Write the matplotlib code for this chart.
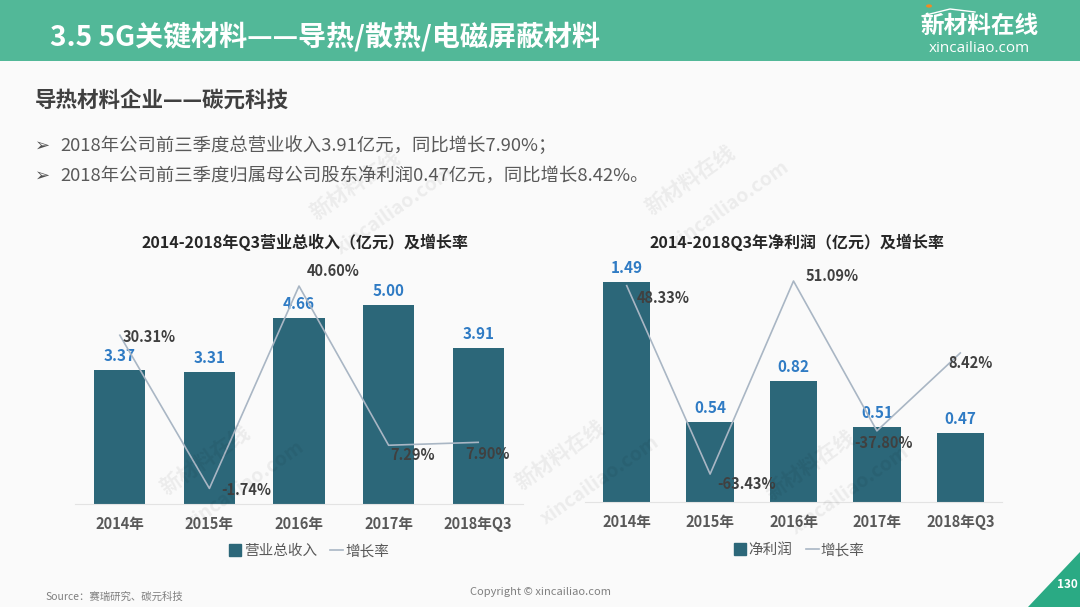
import matplotlib
matplotlib.use("Agg")
import matplotlib.pyplot as plt
from matplotlib.patches import Rectangle, Polygon, Circle
from matplotlib.lines import Line2D

plt.rcParams['font.family'] = ['Noto Sans CJK SC', 'DejaVu Sans']

# ---------------- data ----------------
categories = ['2014年', '2015年', '2016年', '2017年', '2018年Q3']
revenue = [3.37, 3.31, 4.66, 5.00, 3.91]
revenue_growth = [30.31, -1.74, 40.60, 7.29, 7.90]
profit = [1.49, 0.54, 0.82, 0.51, 0.47]
profit_growth = [48.33, -63.43, 51.09, -37.80, 8.42]

title_main = '3.5 5G关键材料——导热/散热/电磁屏蔽材料'
subtitle = '导热材料企业——碳元科技'
bullets = ['2018年公司前三季度总营业收入3.91亿元，同比增长7.90%；',
           '2018年公司前三季度归属母公司股东净利润0.47亿元，同比增长8.42%。']
chart1_title = '2014-2018年Q3营业总收入（亿元）及增长率'
chart2_title = '2014-2018Q3年净利润（亿元）及增长率'
legend1 = ['营业总收入', '增长率']
legend2 = ['净利润', '增长率']

# ---------------- style ----------------
W, H = 1080, 607
BG = '#FAFAFA'
GREEN = '#52B898'
BAR = '#2C6779'
BLUE = '#2F7BC4'
LINE = '#A9B6C4'
DARK = '#404040'
GRAY = '#595959'

fig = plt.figure(figsize=(W / 100, H / 100), dpi=100, facecolor=BG)


def fx(x):
    return x / W


def fy(y):
    return 1 - y / H


def axes_px(x0, y0, x1, y1):
    return fig.add_axes([fx(x0), fy(y1), (x1 - x0) / W, (y1 - y0) / H])


# header band
fig.patches.append(Rectangle((0, fy(61)), 1, 61 / H, transform=fig.transFigure,
                             facecolor=GREEN, edgecolor='none', zorder=0))
fig.text(fx(50), fy(37), title_main, color='white', fontsize=20.2, fontweight='bold',
         va='center', ha='left')
# logo
fig.text(fx(979), fy(26), '新材料在线', color='white', fontsize=17, fontweight='bold',
         va='center', ha='center')
fig.text(fx(979), fy(48), 'xincailiao.com', color='white', fontsize=11,
         va='center', ha='center', family=['Open Sans', 'DejaVu Sans'])
fig.patches.append(Circle((fx(929), fy(6)), 3.0 / W, transform=fig.transFigure,
                          facecolor='#F08A24', edgecolor='none'))
fig.lines.append(Line2D([fx(922), fx(950), fx(975)],
                        [fy(16), fy(9), fy(12)], transform=fig.transFigure,
                        color='white', lw=1.0))

# subtitle & bullets
fig.text(fx(35), fy(100), subtitle, color=DARK, fontsize=15.5, fontweight='bold',
         va='center', ha='left')
for i, b in enumerate(bullets):
    yy = 146 + 30 * i
    fig.text(fx(35), fy(yy), '➢', color='#505050', fontsize=13, va='center', ha='left',
             family=['DejaVu Sans'])
    fig.text(fx(60), fy(yy), b, color=GRAY, fontsize=13.2, va='center', ha='left')

# watermarks
wm = [(355, 185), (690, 180), (205, 460), (560, 455), (810, 465)]
for (wx, wy) in wm:
    fig.text(fx(wx), fy(wy), '新材料在线', color='#000000', alpha=0.06, fontsize=15,
             fontweight='bold', rotation=35, ha='center', va='center')
    fig.text(fx(wx + 40), fy(wy + 25), 'xincailiao.com', color='#000000', alpha=0.06,
             fontsize=14, fontweight='bold', rotation=35, ha='center', va='center')


def draw_chart(box, values, growth, ylim1, ylim2, title, title_xy, g_offs,
               legend_labels, legend_xy):
    ax = axes_px(*box)
    ax.set_facecolor('none')
    x = list(range(len(categories)))
    ax.bar(x, values, width=0.57, color=BAR, zorder=2)
    ax.set_xlim(-0.5, len(categories) - 0.5)
    ax.set_ylim(*ylim1)
    for s in ['top', 'right', 'left']:
        ax.spines[s].set_visible(False)
    ax.spines['bottom'].set_color('#E3E3E3')
    ax.spines['bottom'].set_linewidth(0.8)
    ax.set_yticks([])
    ax.set_xticks(x)
    ax.set_xticklabels(categories, fontsize=10.5, fontweight='bold', color=GRAY)
    ax.tick_params(axis='x', length=0, pad=9)
    for xi, v in zip(x, values):
        ax.annotate(f'{v:.2f}', (xi, v), xytext=(0, 6), textcoords='offset pixels',
                    ha='center', va='bottom', fontsize=11, fontweight='bold', color=BLUE)
    ax2 = ax.twinx()
    ax2.set_ylim(*ylim2)
    ax2.plot(x, growth, color=LINE, lw=1.2, zorder=3)
    ax2.axis('off')
    for xi, g, (ox, oy, ha) in zip(x, growth, g_offs):
        ax2.annotate(f'{g:.2f}%', (xi, g), xytext=(ox, oy), textcoords='offset pixels',
                     ha=ha, va='center', fontsize=10.5, fontweight='bold', color=DARK)
    fig.text(fx(title_xy[0]), fy(title_xy[1]), title, fontsize=11.5, fontweight='bold',
             color='#262626', ha='center', va='center')
    handles = [Line2D([], [], marker='s', linestyle='none', color=BAR, markersize=8),
               Line2D([], [], color=LINE, lw=1.2)]
    fig.legend(handles, legend_labels, loc='center',
               bbox_to_anchor=(fx(legend_xy[0]), fy(legend_xy[1])), ncol=2,
               frameon=False, handlelength=0.9, handletextpad=0.15, columnspacing=0.9,
               prop={'size': 10.5, 'family': ['Noto Sans CJK SC']}, labelcolor=GRAY)
    return ax


draw_chart((75, 265, 523, 504), revenue, revenue_growth, (0, 6), (-5, 45),
           chart1_title, (305, 242),
           [(3, -2, 'left'), (12, -2, 'left'), (8, 15, 'left'), (2, -10, 'left'),
            (-13, -12, 'left')],
           legend1, (309, 551))
draw_chart((585, 266, 1002, 502), profit, profit_growth, (0, 1.6), (-80, 60),
           chart2_title, (797, 242),
           [(10, -12, 'left'), (7, -10, 'left'), (12, 5, 'left'), (7, -12, 'center'),
            (-12, -10, 'left')],
           legend2, (799, 550))

# footer
fig.text(fx(45), fy(597), 'Source：赛瑞研究、碳元科技', fontsize=7.5, style='italic',
         color='#7F7F7F', ha='left', va='center')
fig.text(fx(540), fy(592), 'Copyright © xincailiao.com', fontsize=8, color='#7F7F7F',
         ha='center', va='center')
fig.patches.append(Polygon([(fx(1028), fy(607)), (fx(1080), fy(552)), (fx(1080), fy(607))],
                           closed=True, transform=fig.transFigure,
                           facecolor='#2AAA84', edgecolor='none'))
fig.text(fx(1067), fy(585), '130', fontsize=8.5, fontweight='bold', color='white',
         ha='center', va='center')

fig.savefig('out.png', dpi=100, facecolor=BG)
